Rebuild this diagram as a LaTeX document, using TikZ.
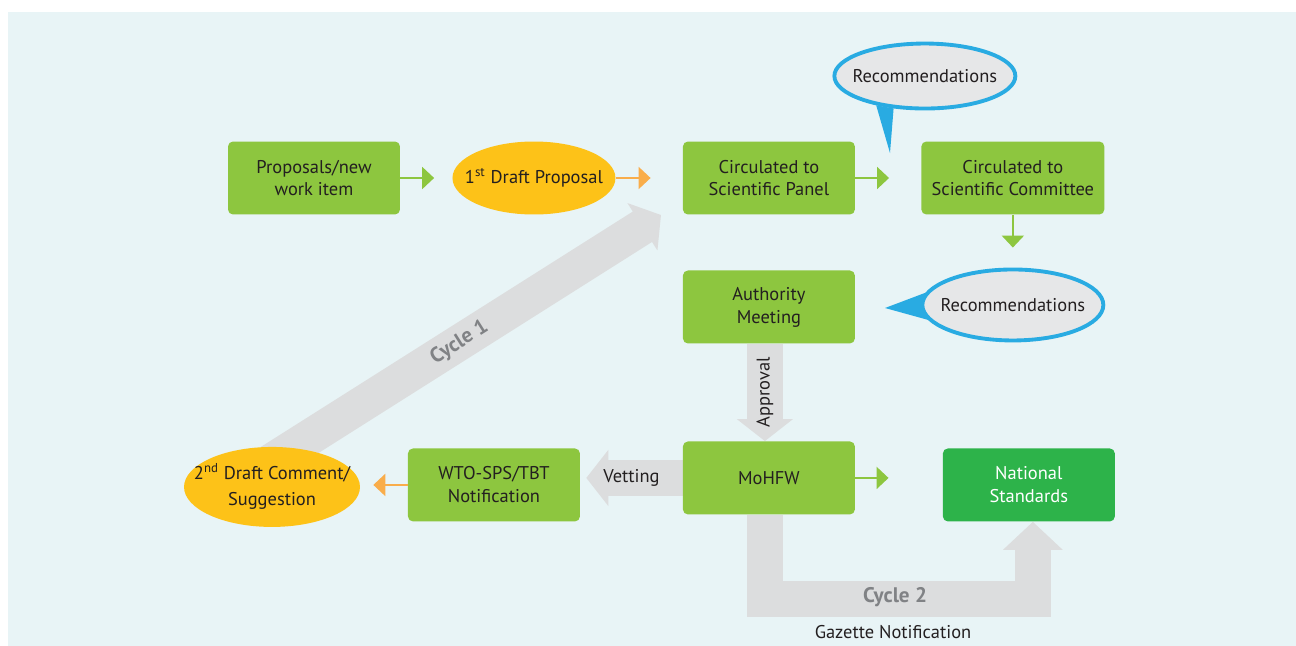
\documentclass[tikz,border=0pt]{standalone}
\usepackage{fontspec}
\setmainfont{PT Sans}
\usetikzlibrary{arrows.meta,shapes.geometric,positioning,backgrounds}
\definecolor{bgBlue}{HTML}{E8F4F6}
\definecolor{leafGreen}{HTML}{8DC63F}
\definecolor{darkGreen}{HTML}{2DB34A}
\definecolor{sunYellow}{HTML}{FDC218}
\definecolor{lightOrange}{HTML}{F9AD4A}
\definecolor{paleGrey}{HTML}{DCDDDE}
\definecolor{bubGrey}{HTML}{E6E7E8}
\definecolor{skyBlue}{HTML}{29ABE2}
\definecolor{txtGrey}{HTML}{808285}
\definecolor{txtBlack}{HTML}{231F20}
\newcommand{\dgfont}{\fontsize{10.5}{13}\selectfont}
\newcommand{\cycfont}{\fontsize{12}{14}\selectfont\bfseries}
\tikzstyle{recNode} = [rectangle, minimum width=3.44cm, minimum height=1.46cm, text centered, align=center, rounded corners=0.1cm, font=\dgfont, text=txtBlack]
\tikzstyle{recNodeG} = [recNode, fill=leafGreen]
\tikzstyle{recNodeD} = [recNode, fill=darkGreen, text=white]
\tikzstyle{ellNode} = [ellipse, fill=sunYellow, minimum width=3.26cm, minimum height=1.46cm, inner sep=0pt, font=\dgfont, text=txtBlack]
\tikzstyle{bubNode} = [ellipse, draw=skyBlue, line width=2.2pt, fill=bubGrey, minimum width=3.62cm, minimum height=1.3cm, inner sep=0pt, font=\dgfont, text=txtBlack]
\tikzstyle{eNode} = [font=\dgfont, text=txtBlack]
\tikzstyle{cycNode} = [font=\cycfont, text=txtGrey]
\tikzstyle{arrowG} = [line width=1.2pt, -{Triangle[length=0.24cm,width=0.44cm]}, draw=leafGreen]
\tikzstyle{arrowO} = [arrowG, draw=lightOrange]
\tikzstyle{arrowBig} = [line width=0.72cm, -{Triangle[length=0.44cm,width=1.1cm]}, draw=paleGrey]

\begin{document}
\begin{tikzpicture}[x=0.02cm, y=-0.02cm, node distance=1.2cm]
    \useasboundingbox (0,0) rectangle (1296,646);
    \node (prop) [recNodeG] at (314,178) {Proposals/new\\work item};
    \node (draft1) [ellNode, right of=prop, xshift=3.2cm] {\makebox[0pt]{1\textsuperscript{st} Draft Proposal}};
    \node (panel) [recNodeG, right of=draft1, xshift=3.5cm] {Circulated to\\Scientific Panel};
    \node (committee) [recNodeG, right of=panel, xshift=3.68cm, minimum width=3.66cm] {Circulated to\\Scientific Committee};
    \node (authority) [recNodeG, below of=panel, yshift=-1.38cm] {Authority\\Meeting};
    \node (mohfw) [recNodeG, below of=authority, yshift=-2.22cm] {MoHFW};
    \node (natstd) [recNodeD, right of=mohfw, xshift=4cm, yshift=-0.14cm] {National\\Standards};
    \node (wto) [recNodeG, left of=mohfw, xshift=-4.3cm, yshift=-0.14cm] {WTO-SPS/TBT\\Notification};
    \node (draft2) [ellNode, left of=wto, xshift=-3.24cm, yshift=-0.04cm, minimum width=3.52cm, minimum height=1.6cm] {\makebox[0pt]{\renewcommand{\arraystretch}{1.15}\begin{tabular}{@{}c@{}}2\textsuperscript{nd} Draft Comment/\\Suggestion\end{tabular}}};
    \node (rec1) [bubNode, above of=committee, xshift=-1.76cm, yshift=0.84cm] {\makebox[0pt]{Recommendations}};
    \node (rec2) [bubNode, below of=committee, yshift=-1.34cm, minimum height=1.42cm] {\makebox[0pt]{Recommendations}};
    \node (cyc2) [cycNode] at (895,597) {Cycle 2};
    \node (gazette) [eNode] at (893,632) {Gazette Notification};
    \coordinate (cyc1start) at (258,470);
    \coordinate (cyc1tip) at (661,215);
    \coordinate (rec1tip) at (890,153);
    \coordinate (rec2tip) at (885,308);

    \draw [arrowG, shorten >=0.36cm] (prop) -- (draft1);
    \draw [arrowO, shorten >=0.64cm] (draft1) -- (panel);
    \draw [arrowG, shorten >=0.64cm] (panel) -- (committee);
    \draw [arrowG, shorten >=0.4cm] (committee) -- (rec2);
    \draw [arrowG, shorten >=1.08cm] (mohfw.east) -- (mohfw.east -| natstd.west);
    \draw [arrowO, shorten >=0.26cm] (wto.west) -- (wto.west -| draft2.east);

    \begin{pgfonlayer}{background}
    \fill [bgBlue] (8,12) rectangle (1296,646);
    \draw [arrowBig] ([xshift=-0.08cm]authority.south) -- node[eNode, rotate=90] {Approval} ([xshift=-0.08cm]mohfw.north);
    \draw [arrowBig, shorten >=0.12cm] (mohfw.west) -- node[eNode] {Vetting} (mohfw.west -| wto.east);
    \draw [arrowBig] (cyc1start) -- node[cycNode, sloped] {Cycle 1} (cyc1tip);
    \draw [arrowBig, -{Triangle[length=0.56cm,width=1.16cm]}] ([xshift=-0.08cm]mohfw.south) -- ++(0,84) -| ([xshift=0.08cm]natstd.south);
    % speech bubble tails
    \fill [skyBlue] (rec1.211) -- (rec1tip) -- (rec1.226) -- cycle;
    \fill [skyBlue] (rec2.172) -- (rec2tip) -- (rec2.190) -- cycle;
    \end{pgfonlayer}
\end{tikzpicture}
\end{document}
